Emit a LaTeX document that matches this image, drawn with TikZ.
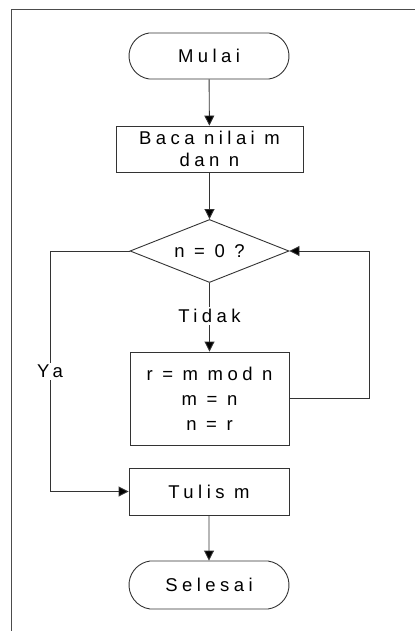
\documentclass[tikz,border=0pt]{standalone}
\usepackage{fontspec}
\setmainfont{Liberation Sans}[LetterSpace=24]
\usetikzlibrary{arrows.meta,shapes.geometric,shapes.misc}
\begin{document}
\begin{tikzpicture}[x=1pt,y=-1pt,
  line width=0.9pt,
  every node/.style={font=\fontsize{18.5}{26}\selectfont, text=black},
  flow/.style={draw=black!80, -{Triangle[width=10pt,length=10pt,fill=black]}},
  term/.style={draw=black!80, rounded rectangle, rounded rectangle arc length=165,
    minimum width=160pt, inner sep=0pt, align=center},
  proc/.style={draw=black!80, rectangle, inner sep=0pt, align=center},
  cond/.style={draw=black!80, diamond, aspect=2.5, inner sep=0pt, minimum width=159pt, minimum height=63pt},
  lbl/.style={fill=white, inner sep=2pt}]
  \useasboundingbox (0,0) rectangle (415,631);
  % open frame: left and top edges
  \draw[black!70] (11,631) -- (11,9) -- (415,9);

  \node[term, minimum height=46pt] (start) at (209,56) {Mulai};
  \node[proc, minimum width=187pt, minimum height=46pt] (read) at (209.5,149) {Baca nilai m\\[-4pt]dan n};
  \node[cond] (test) at (209.5,251) {n = 0 ?};
  \node[proc, minimum width=159pt, minimum height=93pt] (calc) at (209.5,398.5) {r = m mod n\\[-1pt]m = n\\[-1pt]n = r};
  \node[proc, minimum width=160pt, minimum height=47pt] (out) at (209,491.5) {Tulis m};
  \node[term, minimum height=48pt] (stop) at (209,585) {Selesai};

  \draw[flow] (start) -- (read);
  \draw[flow] (read) -- (test);
  \draw[flow] (test.south) -- node[lbl, pos=0.48] {Tidak} (calc.north);
  \draw[flow] (calc.east) -- (369,398.5) -- (369,251) -- (test.east);
  \draw[flow] (test.west) -- (50,251) -- node[lbl, pos=0.5] {Ya} (50,491.5) -- (out.west);
  \draw[flow] (out) -- (stop);
\end{tikzpicture}
\end{document}
